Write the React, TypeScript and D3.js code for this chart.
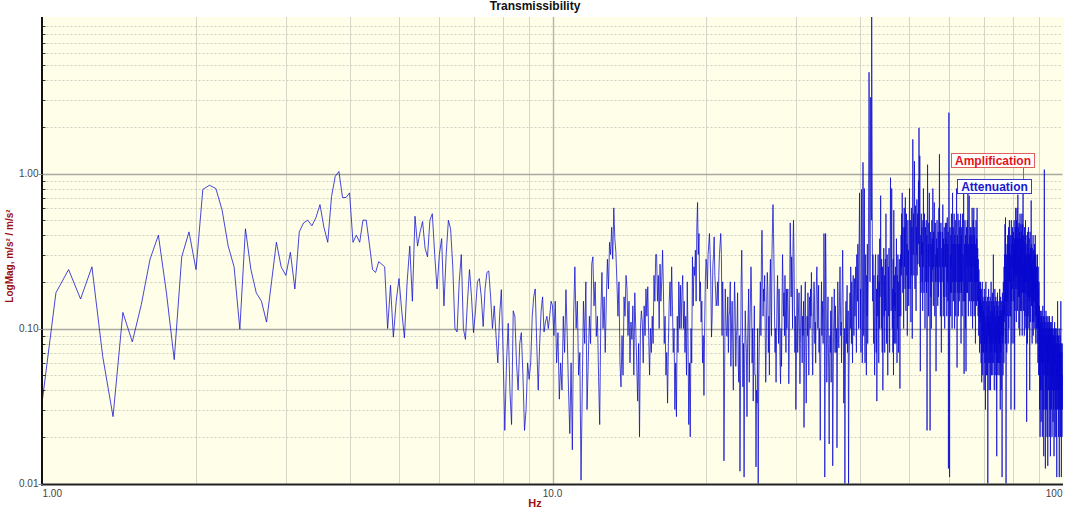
import { useEffect, useRef } from 'react';
import * as d3 from 'd3';

const WIDTH = 1068;
const HEIGHT = 510;
const PLOT = { left: 42.5, right: 1062.5, top: 18.5, bottom: 483.5 };
const FONT = 'Arial, "Liberation Sans", sans-serif';

// spectrum lines are 0.0625 Hz apart; each band starts at its own frequency
const DF = 0.0625;
const bandStart = [1, 5, 10, 20, 40, 60, 80];

const mag1to5 = [
  .035, .17, .24, .155, .25, .066, .027, .127, .082, .143, .28, .40, .17, .063, .29, .42,
  .24, .79, .84, .80, .58, .34, .25, .099, .44, .24, .17, .15, .11, .2, .36, .25,
  .22, .31, .18, .42, .48, .5, .46, .52, .63, .45, .36, .71, .96, 1.03, .70, .70,
  .75, .36, .40, .36, .50, .50, .35, .24, .23, .27, .26, .25, .10, .19, .088, .15,
];

const mag5to10 = [
  .21, .13, .087, .2, .34, .15, .53, .34, .42, .49, .33, .29, .5, .55, .3, .18,
  .3, .38, .14, .3, .5, .44, .25, .1, .095, .2, .3, .1, .085, .15, .24, .16,
  .094, .13, .2, .21, .16, .103, .18, .23, .235, .16, .1, .14, .09, .06, .12, .178,
  .07, .022, .06, .108, .04, .024, .13, .12, .06, .04, .08, .094, .05, .022, .03, .06,
  .047, .06, .12, .16, .18, .08, .04, .08, .13, .16, .095, .11, .12, .10, .12, .15,
];

const mag10to20 = [
  .14, .09, .15, .06, .094, .035, .06, .04, .12, .07, .178, .09, .04, .021, .06, .0165,
  .12, .25, .1, .15, .05, .07, .0105, .04, .15, .08, .2, .03, .06, .12, .08, .26,
  .29, .14, .2, .089, .12, .049, .024, .12, .23, .1, .16, .07, .15, .28, .18, .36,
  .3, .45, .28, .6, .38, .31, .2, .12, .2, .06, .042, .09, .05, .16, .12, .22,
  .18, .09, .15, .06, .11, .085, .14, .05, .17, .1, .06, .034, .08, .02, .1, .13,
  .11, .06, .14, .09, .18, .12, .186, .09, .05, .1, .07, .12, .08, .22, .15, .3,
  .3, .15, .22, .1, .26, .15, .2, .32, .18, .08, .12, .05, .07, .033, .08, .15,
  .2, .12, .25, .14, .07, .1, .03, .06, .027, .12, .07, .2, .1, .19, .1, .17,
  .22, .1, .15, .07, .12, .05, .2, .09, .024, .06, .02, .1, .06, .29, .14, .25,
  .22, .32, .15, .45, .65, .3, .41, .15, .2, .11, .15, .06, .09, .037, .1, .2,
];

const mag20to40 = [
  .28, .26, .18, .3, .35, .41, .3, .2, .088, .12, .25, .3, .39, .22, .18, .14,
  .15, .2, .14, .22, .3, .35, .41, .3, .09, .2, .12, .014, .05, .18, .12, .09,
  .089, .16, .07, .12, .13, .2, .057, .1, .15, .08, .04, .11, .2, .14, .057, .09,
  .1, .17, .06, .045, .09, .012, .05, .2, .32, .15, .042, .08, .011, .06, .13, .09,
  .07, .027, .08, .12, .18, .045, .1, .15, .25, .17, .06, .1, .034, .07, .14, .05,
  .05, .0128, .04, .033, .1, .0095, .045, .08, .12, .2, .09, .3, .43, .25, .12, .18,
  .15, .22, .1, .045, .08, .16, .23, .18, .07, .12, .05, .2, .28, .14, .09, .3,
  .45, .63, .41, .25, .12, .07, .1, .045, .09, .16, .22, .13, .08, .18, .11, .06,
  .044, .1, .057, .14, .3, .2, .12, .17, .09, .22, .13, .07, .18, .1, .16, .18,
  .11, .044, .08, .2, .48, .3, .16, .29, .2, .1, .35, .5, .3, .14, .07, .12,
  .03, .06, .11, .18, .07, .1, .14, .17, .09, .044, .08, .13, .19, .1, .06, .12,
  .09, .15, .023, .06, .14, .2, .08, .033, .07, .12, .09, .17, .11, .05, .13, .16,
  .1, .18, .12, .23, .15, .07, .05, .09, .13, .2, .17, .08, .11, .06, .14, .22,
  .25, .16, .1, .12, .19, .07, .1, .05, .019, .06, .13, .2, .09, .15, .11, .08,
  .14, .41, .2, .011, .05, .41, .25, .1, .045, .07, .12, .16, .08, .04, .018, .06,
  .09, .07, .13, .045, .1, .16, .06, .013, .04, .089, .12, .18, .1, .07, .14, .09,
  .07, .1, .017, .05, .2, .13, .08, .075, .12, .18, .25, .15, .09, .11, .06, .14,
  .2, .32, .18, .09, .033, .06, .1, .01, .04, .11, .15, .08, .12, .19, .07, .1,
  .13, .0096, .05, .07, .12, .17, .1, .25, .16, .08, .2, .12, .06, .15, .22, .11,
  .09, .14, .21, .12, .18, .25, .12, .07, .3, .2, .15, .35, .22, .1, .28, .4,
];

const mag40to60 = [
  .75, .2, .1, .18, .07, .3, .79, .22, .06, .15, 1.18, .3, .09, .2, .8, .14,
  .06, .18, .3, .1, .05, .22, .12, .35, .08, .16, .25, 1.2, 4.5, 2.0, .45, .2,
  .7, 3.1, 1.5, .5, 12, 2.5, .4, .15, .3, .14, .08, .22, .12, .05, .1, .25,
  .3, .12, .07, .18, .034, .09, .22, .12, .3, .15, .06, .2, .1, .38, .16, .25,
  .72, .2, .1, .28, .13, .07, .25, .04, .09, .18, .33, .12, .22, .07, .15, .28,
  .13, .55, .2, .08, .17, .3, .1, .05, .14, .25, .12, .33, .18, .07, .22, .36,
  .94, .28, .13, .24, .8, .2, .1, .18, .07, .28, .05, .58, .14, .22, .08, .17,
  .13, .25, .08, .18, .38, .14, .06, .22, .1, .3, .16, .07, .2, .12, .28, .15,
  .041, .18, .3, .12, .4, .22, .55, .25, .75, .33, .17, .45, .25, .1, .35, .6,
  .25, .45, .18, .7, .3, .13, .4, .55, .22, .35, .09, .28, .5, .18, .32, .14,
  .28, .42, .8, .35, .18, .5, .27, .11, .38, .6, .22, .45, .086, .48, 1.66, .65,
  .3, .55, .22, .48, 1.2, .4, .18, .36, .62, .27, .13, .45, .3, .68, .22, .38,
  .55, .26, .45, .9, .35, 1.97, .65, .25, 1.3, .42, .053, .22, .4, .17, .55, .3,
  .45, .2, .36, .13, .5, .25, .8, .4, .17, .3, .55, .24, .1, .36, .45, .2,
  .3, .5, .17, .4, .022, .26, 1.14, .42, .2, .35, .12, .48, .25, .75, .3, .16,
  .022, .25, .42, .16, .35, .1, .3, .5, .2, .38, .24, .8, .33, .14, .42, .25,
  .38, .65, .25, .12, .33, .48, .2, .3, .053, .17, .38, .25, .5, .2, .33, .14,
  .3, .42, .16, .35, .6, .25, 1.33, .38, .2, .42, .12, .3, .48, .17, .07, .25,
  .33, .2, .42, .25, .63, .3, .12, .38, .16, .3, .45, .2, .1, .35, .25, .48,
  .25, .38, .16, .48, .3, .12, .35, .52, .2, .35, .15, .42, .0125, .25, 2.47, .5,
];

const mag60to80 = [
  .35, .011, .2, .45, .17, .3, .12, .4, .25, .55, .17, .35, .1, .25, .75, .2,
  .3, .45, .15, .35, .2, .55, .25, .1, .4, .17, .5, .25, .12, .35, .2, .45,
  .8, .25, .056, .2, .4, .17, .55, .3, .12, .35, .2, .5, .15, .3, .45, .17,
  .35, .2, .55, .25, .08, .4, .17, .45, .25, .12, .35, .55, .2, .3, .15, .4,
  .78, .25, .051, .2, .35, .15, .5, .25, .1, .4, .2, .053, .3, .45, .17, .35,
  .25, .5, .17, .4, .75, .25, .12, .35, .2, .55, .72, .3, .15, .4, .25, .45,
  .2, .35, .12, .45, .25, .15, .4, .2, .6, .3, .1, .35, .25, .5, .15, .3,
  .6, .25, .12, .4, .2, .45, .15, .3, .08, .35, .2, .5, .25, .14, .38, .2,
  .6, .25, .15, .33, .2, .12, .28, .15, .09, .24, .13, .2, .07, .16, .11, .18,
  .12, .2, .08, .15, .06, .18, .1, .045, .14, .07, .2, .11, .05, .16, .09, .13,
  .07, .15, .1, .04, .18, .08, .12, .06, .16, .09, .03, .13, .2, .07, .11, .05,
  .15, .08, .12, .05, .16, .1, .01, .07, .14, .09, .18, .06, .11, .04, .15, .08,
  .12, .06, .16, .09, .04, .13, .07, .2, .1, .05, .15, .08, .12, .06, .17, .09,
  .05, .13, .08, .3, .12, .06, .15, .1, .04, .14, .07, .18, .09, .05, .12, .08,
  .16, .07, .11, .04, .15, .015, .09, .13, .06, .17, .1, .05, .14, .08, .12, .06,
  .1, .15, .05, .12, .08, .18, .06, .13, .03, .1, .16, .07, .12, .04, .15, .09,
  .13, .06, .011, .1, .17, .08, .14, .05, .12, .2, .09, .15, .06, .25, .11, .18,
  .3, .12, .47, .2, .08, .52, .15, .25, .01, .1, .3, .18, .07, .22, .35, .12,
  .2, .4, .15, .3, .08, .25, .45, .18, .1, .35, .2, .5, .25, .12, .3, .2,
  .4, .2, .12, .3, .03, .25, .5, .15, .35, .2, .08, .4, .25, .45, .18, .3,
];

const mag80to100 = [
  .3, .15, .42, .2, .35, .08, .5, .22, .38, .03, .18, .33, .13, .45, .22, .6,
  .18, .4, .27, .11, .5, .22, .35, .6, .18, .38, .13, .28, .73, .22, .45, .16,
  .38, .22, .1, .48, .27, .16, .42, .09, .33, .55, .2, .38, .13, .27, .47, .17,
  .33, .13, .42, .22, .55, .27, .09, .38, .17, .47, .3, .78, .2, .4, .13, .27,
  .17, .36, .25, .09, .45, .2, .3, .12, .4, .17, .5, .25, .1, .35, .2, .3,
  .12, .025, .25, .4, .16, .3, .08, .42, .2, .33, .12, .25, .45, .16, .3, .1,
  .25, .38, .15, .3, .04, .2, .42, .25, .11, .33, .16, .3, .2, .67, .25, .14,
  .35, .15, .25, .08, .33, .2, .11, .28, .15, .4, .09, .24, .15, .32, .11, .2,
  .3, .15, .35, .2, .1, .3, .18, .4, .12, .25, .08, .3, .2, .15, .25, .1,
  .2, .12, .25, .08, .18, .3, .1, .2, .06, .15, .25, .1, .18, .05, .14, .2,
  .1, .05, .14, .03, .08, .12, .02, .09, .13, .04, .1, .07, .11, .025, .08, .12,
  .06, .13, .04, .1, .07, .02, .11, .05, .14, .08, .03, .12, .06, .09, .015, .1,
  .07, .13, 1.06, .1, .05, .12, .03, .08, .11, .0125, .06, .1, .04, .13, .07, .09,
  .03, .1, .06, .12, .02, .08, .11, .05, .09, .013, .07, .12, .04, .1, .06, .08,
  .11, .04, .09, .02, .07, .12, .05, .1, .03, .08, .11, .015, .06, .09, .04, .1,
  .07, .11, .03, .08, .05, .1, .02, .07, .12, .04, .09, .06, .1, .025, .08, .05,
  .09, .03, .07, .1, .015, .06, .08, .04, .11, .05, .07, .02, .09, .06, .1, .03,
  .06, .08, .02, .07, .1, .04, .06, .011, .08, .05, .09, .03, .07, .15, .04, .06,
  .08, .03, .06, .09, .02, .05, .07, .04, .1, .011, .06, .08, .03, .07, .05, .09,
  .04, .07, .02, .06, .15, .03, .05, .08, .011, .06, .04, .07, .02, .05, .08, .03,
  .05,
];

const bands = [mag1to5, mag5to10, mag10to20, mag20to40, mag40to60, mag60to80, mag80to100];

const xTickValues = [1, 10, 100];
const xTickLabels = ['1.00', '10.0', '100'];
const yTickValues = [0.01, 0.1, 1];
const yTickLabels = ['0.01', '0.10', '1.00'];

type Pt = { f: number; v: number };

export default function App() {
  const svgRef = useRef<SVGSVGElement>(null);

  useEffect(() => {
    if (!svgRef.current) return;
    const svg = d3.select(svgRef.current);
    svg.selectAll('*').remove();

    const x = d3.scaleLog().domain([1, 100]).range([PLOT.left, PLOT.right]);
    const y = d3.scaleLog().domain([0.01, 10]).range([PLOT.bottom, PLOT.top]);

    const points: Pt[] = bands.flatMap((vals, b) =>
      vals.map((v, i) => ({ f: bandStart[b] + i * DF, v }))
    );

    const isDecade = (v: number) => Math.abs(Math.log10(v) - Math.round(Math.log10(v))) < 1e-6;

    svg.append('rect').attr('width', WIDTH).attr('height', HEIGHT).attr('fill', '#ffffff');
    svg.append('rect')
      .attr('x', PLOT.left).attr('y', PLOT.top - 1.5)
      .attr('width', PLOT.right - PLOT.left + 1).attr('height', PLOT.bottom - PLOT.top + 1.5)
      .attr('fill', '#fefee9');

    // vertical grid
    const xGrid = x.ticks().filter(v => v > 1 && v < 100);
    svg.selectAll('.vgrid')
      .data(xGrid)
      .enter()
      .append('line')
      .attr('x1', d => Math.round(x(d)) + 0.5)
      .attr('x2', d => Math.round(x(d)) + 0.5)
      .attr('y1', PLOT.top - 1.5)
      .attr('y2', PLOT.bottom)
      .attr('stroke', d => (isDecade(d) ? '#b4b4aa' : '#d6d6c8'))
      .attr('stroke-width', d => (isDecade(d) ? 1.4 : 1));

    // horizontal grid: dashed minors, solid decades
    const yGrid = y.ticks().filter(v => v > 0.01 && v < 10);
    svg.selectAll('.hgrid')
      .data(yGrid)
      .enter()
      .append('line')
      .attr('x1', PLOT.left)
      .attr('x2', PLOT.right)
      .attr('y1', d => Math.round(y(d)) + 0.5)
      .attr('y2', d => Math.round(y(d)) + 0.5)
      .attr('stroke', d => (isDecade(d) ? '#a9a9a2' : '#cfcfc4'))
      .attr('stroke-width', d => (isDecade(d) ? 1.3 : 1))
      .attr('stroke-dasharray', d => (isDecade(d) ? null : '2,2'));

    // minor ticks on the left axis
    svg.selectAll('.ytick-minor')
      .data(yGrid.filter(d => !isDecade(d)))
      .enter()
      .append('line')
      .attr('x1', PLOT.left)
      .attr('x2', PLOT.left + 3)
      .attr('y1', d => Math.round(y(d)) + 0.5)
      .attr('y2', d => Math.round(y(d)) + 0.5)
      .attr('stroke', '#333');

    // spectrum
    svg.append('clipPath').attr('id', 'plot-clip')
      .append('rect')
      .attr('x', PLOT.left).attr('y', PLOT.top - 1.5)
      .attr('width', PLOT.right - PLOT.left + 1).attr('height', PLOT.bottom - PLOT.top + 1.5);

    const line = d3.line<Pt>().x(d => x(d.f)).y(d => y(d.v));
    svg.append('path')
      .datum(points)
      .attr('clip-path', 'url(#plot-clip)')
      .attr('d', line)
      .attr('fill', 'none')
      .attr('stroke', '#0a0ad0')
      .attr('stroke-width', 0.75)
      .attr('stroke-linejoin', 'round');

    // axes
    svg.append('line')
      .attr('x1', PLOT.left - 0.5).attr('x2', PLOT.left - 0.5)
      .attr('y1', PLOT.top - 1.5).attr('y2', PLOT.bottom + 2)
      .attr('stroke', '#111').attr('stroke-width', 2);
    svg.append('line')
      .attr('x1', PLOT.left - 1.5).attr('x2', PLOT.right + 0.5)
      .attr('y1', PLOT.bottom + 1).attr('y2', PLOT.bottom + 1)
      .attr('stroke', '#222').attr('stroke-width', 2);

    // y tick labels
    svg.selectAll('.ylabel')
      .data(yTickValues)
      .enter()
      .append('g')
      .each(function (d, i) {
        const g = d3.select(this);
        g.append('line')
          .attr('x1', PLOT.left - 4).attr('x2', PLOT.left)
          .attr('y1', Math.round(y(d)) + 0.5).attr('y2', Math.round(y(d)) + 0.5)
          .attr('stroke', '#888');
        g.append('text')
          .attr('x', PLOT.left - 4)
          .attr('y', y(d) + 3.5)
          .attr('text-anchor', 'end')
          .attr('font-family', FONT)
          .attr('font-size', 10)
          .attr('fill', '#444')
          .text(yTickLabels[i]);
      });

    // x tick labels
    svg.selectAll('.xlabel')
      .data(xTickValues)
      .enter()
      .append('text')
      .attr('x', d => x(d))
      .attr('y', 497)
      .attr('text-anchor', (d, i) => (i === 0 ? 'start' : i === xTickValues.length - 1 ? 'end' : 'middle'))
      .attr('font-family', FONT)
      .attr('font-size', 10)
      .attr('fill', '#444')
      .text((d, i) => xTickLabels[i]);

    // titles
    svg.append('text')
      .attr('x', 535).attr('y', 10)
      .attr('text-anchor', 'middle')
      .attr('font-family', FONT).attr('font-size', 12).attr('font-weight', 700)
      .attr('fill', '#111')
      .text('Transmissibility');
    svg.append('text')
      .attr('x', 535).attr('y', 507)
      .attr('text-anchor', 'middle')
      .attr('font-family', FONT).attr('font-size', 11).attr('font-weight', 700)
      .attr('fill', '#9a1010')
      .text('Hz');
    svg.append('text')
      .attr('transform', 'translate(13,256) rotate(-90)')
      .attr('text-anchor', 'middle')
      .attr('font-family', FONT).attr('font-size', 10).attr('font-weight', 700)
      .attr('fill', '#9a1010')
      .text('LogMag, m/s² / m/s²');

    // annotation boxes
    const notes = [
      { text: 'Amplification', x: 951.5, y: 153.5, w: 83, h: 14, color: '#e8121a', border: '#e06060' },
      { text: 'Attenuation', x: 957.5, y: 179.5, w: 74, h: 14, color: '#1818d0', border: '#3a3ac8' },
    ];
    svg.append('line')
      .attr('x1', 1023.5).attr('x2', 1023.5).attr('y1', 167.5).attr('y2', 179.5)
      .attr('stroke', '#7070a8');
    notes.forEach(n => {
      svg.append('rect')
        .attr('x', n.x).attr('y', n.y).attr('width', n.w).attr('height', n.h)
        .attr('fill', '#ffffff').attr('stroke', n.border);
      svg.append('text')
        .attr('x', n.x + n.w / 2).attr('y', n.y + 11)
        .attr('text-anchor', 'middle')
        .attr('font-family', FONT).attr('font-size', 12).attr('font-weight', 700)
        .attr('fill', n.color)
        .text(n.text);
    });
  }, []);

  return (
    <svg
      ref={svgRef}
      width={WIDTH}
      height={HEIGHT}
      style={{ position: 'absolute', left: 0, top: 0, display: 'block' }}
    />
  );
}
